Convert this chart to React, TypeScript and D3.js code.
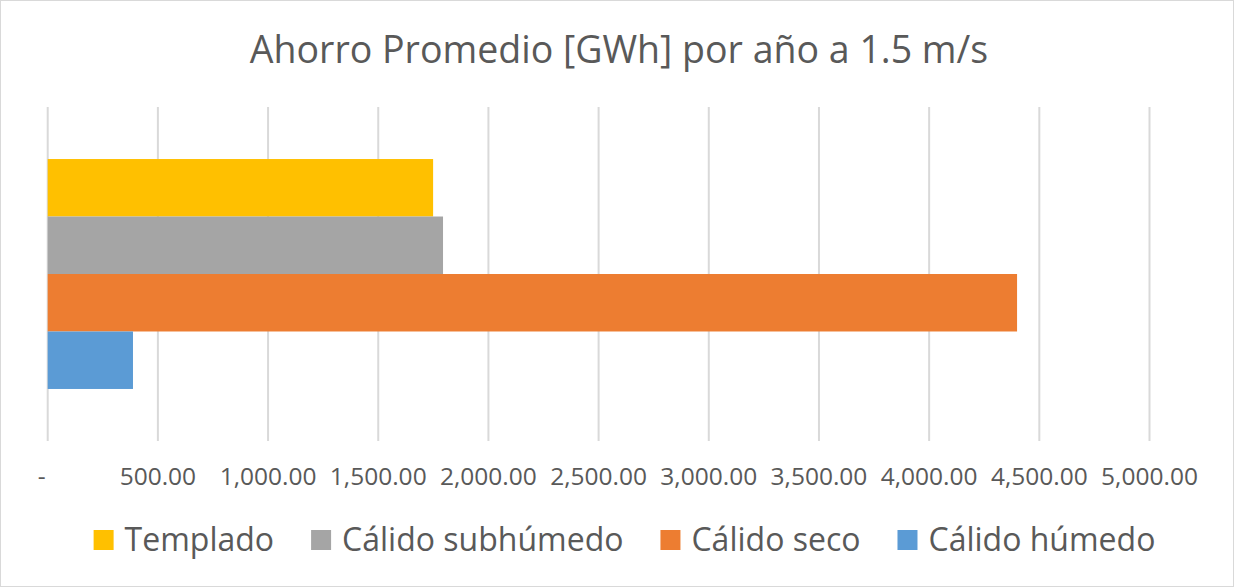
import React, { useEffect, useRef } from "react";
import * as d3 from "d3";

const title = "Ahorro Promedio [GWh] por año a 1.5 m/s";
const seriesNames = ["Templado", "Cálido subhúmedo", "Cálido seco", "Cálido húmedo"];
const seriesValues = [1749, 1794, 4399, 387];
const seriesColors = ["#FFC000", "#A5A5A5", "#ED7D31", "#5B9BD5"];
const tickValues = [0, 500, 1000, 1500, 2000, 2500, 3000, 3500, 4000, 4500, 5000];

const W = 1234;
const H = 587;
const FONT = "'Open Sans', 'Noto Sans', sans-serif";
const TEXT = "#595959";

export default function App() {
  const ref = useRef<SVGSVGElement | null>(null);

  useEffect(() => {
    const svg = d3.select(ref.current);
    svg.selectAll("*").remove();

    svg.append("rect").attr("x", 0.5).attr("y", 0.5).attr("width", W - 1).attr("height", H - 1)
      .attr("fill", "#fff").attr("stroke", "#D9D9D9").attr("stroke-width", 1);

    svg.append("text").attr("x", 619).attr("y", 63).attr("text-anchor", "middle")
      .attr("font-family", FONT).attr("font-size", 37.5).attr("font-weight", 400).attr("fill", TEXT)
      .text(title);

    const x = d3.scaleLinear().domain([0, 5000]).range([47.7, 1149.5]);
    const y = d3.scaleBand().domain(seriesNames).range([107, 441]).paddingInner(0).paddingOuter(0.905);

    const grid = svg.append("g");
    grid.selectAll("line").data(tickValues).join("line")
      .attr("x1", (d) => x(d)).attr("x2", (d) => x(d)).attr("y1", 107).attr("y2", 441)
      .attr("stroke", "#D9D9D9").attr("stroke-width", 2);

    const fmt = d3.format(",.2f");
    svg.append("g").selectAll("text").data(tickValues).join("text")
      .attr("x", (d) => (d === 0 ? x(d) - 6 : x(d)))
      .attr("y", 485).attr("text-anchor", "middle")
      .attr("font-family", FONT).attr("font-size", 24.5).attr("fill", TEXT)
      .text((d) => (d === 0 ? "-" : fmt(d)));

    svg.append("g").selectAll("rect").data(seriesNames).join("rect")
      .attr("x", x(0)).attr("y", (d) => y(d)!)
      .attr("width", (d, i) => x(seriesValues[i]) - x(0))
      .attr("height", y.bandwidth())
      .attr("fill", (d, i) => seriesColors[i]);

    // legend
    const lg = svg.append("g");
    const items = lg.selectAll("g").data(seriesNames).join("g");
    items.append("rect").attr("width", 20).attr("height", 20).attr("y", 530)
      .attr("fill", (d, i) => seriesColors[i]);
    const texts = items.append("text").attr("y", 551)
      .attr("font-family", FONT).attr("font-size", 32).attr("fill", TEXT)
      .text((d) => d);
    const widths: number[] = [];
    texts.each(function () { widths.push((this as SVGTextElement).getComputedTextLength()); });
    const sq = 20, gapIn = 11, gapOut = 37;
    const total = widths.reduce((a, w) => a + sq + gapIn + w, 0) + gapOut * (widths.length - 1);
    let cx = 624.5 - total / 2;
    items.each(function (d, i) {
      const g = d3.select(this);
      g.select("rect").attr("x", cx);
      g.select("text").attr("x", cx + sq + gapIn);
      cx += sq + gapIn + widths[i] + gapOut;
    });
  }, []);

  return (
    <svg ref={ref} width={W} height={H} style={{ position: "absolute", left: 0, top: 0, display: "block" }} />
  );
}
